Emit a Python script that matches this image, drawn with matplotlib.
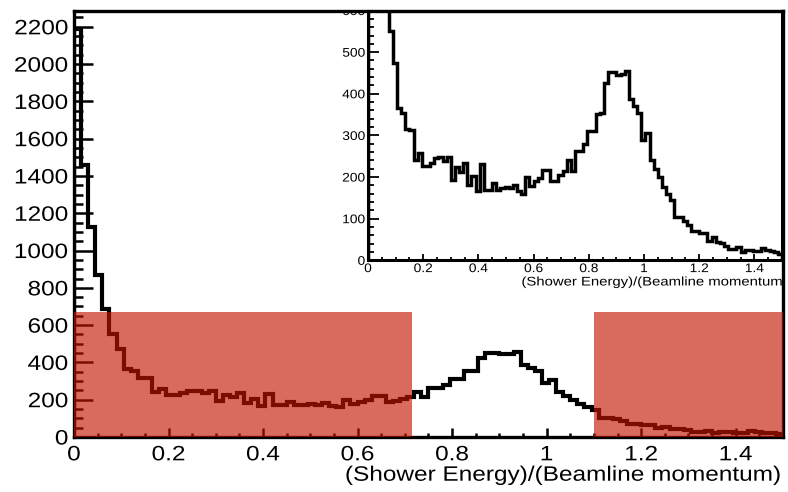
import numpy as np
import matplotlib.pyplot as plt
from matplotlib.ticker import MultipleLocator, FormatStrFormatter
from matplotlib.transforms import Bbox, TransformedBbox, Affine2D
from matplotlib.patheffects import AbstractPathEffect

plt.rcParams['font.family'] = ['Liberation Sans', 'DejaVu Sans']

# histogram of (shower energy)/(beamline momentum), 100 bins from 0 to 1.5
x_min, x_max, n_bins = 0.0, 1.5, 100
counts = [
    2190, 1458, 1126, 869, 686, 550, 474, 367, 354, 316,
    314, 242, 258, 226, 226, 234, 246, 247, 238, 247,
    194, 223, 212, 234, 182, 202, 167, 232, 170, 170,
    186, 170, 173, 175, 174, 182, 167, 159, 199, 178,
    190, 198, 218, 218, 190, 191, 206, 214, 242, 214,
    263, 263, 280, 310, 310, 352, 355, 425, 452, 452,
    445, 447, 455, 388, 370, 355, 290, 305, 240, 220,
    200, 175, 160, 145, 103, 103, 95, 85, 70, 70,
    65, 65, 47, 55, 45, 42, 35, 28, 28, 32,
    20, 25, 25, 23, 22, 30, 25, 22, 20, 15,
]
edges = np.linspace(x_min, x_max, n_bins + 1)

# rejected regions (shaded)
cut_ranges = [(0.0, 0.715), (1.1, 1.5)]
cut_top = 670


class Widen(AbstractPathEffect):
    """stretch text horizontally around one side of its ink box (the old plot has wide glyphs)"""
    def __init__(self, sx, anchor='center'):
        super().__init__()
        self.sx = sx
        self.anchor = anchor

    def draw_path(self, renderer, gc, tpath, affine, rgbFace=None):
        ext = tpath.get_extents(affine)
        if self.anchor == 'left':
            x0 = ext.x0
        elif self.anchor == 'right':
            x0 = ext.x1
        else:
            x0 = 0.5 * (ext.x0 + ext.x1)
        aff = affine + Affine2D().translate(-x0, 0).scale(self.sx, 1).translate(x0, 0)
        renderer.draw_path(gc, tpath, aff, rgbFace)


fig = plt.figure(figsize=(7.88, 4.92), dpi=100)
fig.patch.set_facecolor('white')

# ---- inset (drawn underneath the main frame)
axi = fig.add_axes([0.467, 0.4709, 0.5254, 0.5077])
axi.set_zorder(0)
axi.stairs(counts, edges, color='black', lw=2.5)
axi.set_xlim(x_min, x_max)
axi.set_ylim(0, 600)
axi.xaxis.set_major_locator(MultipleLocator(0.2))
axi.xaxis.set_minor_locator(MultipleLocator(0.05))
axi.yaxis.set_major_locator(MultipleLocator(100))
axi.yaxis.set_minor_locator(MultipleLocator(20))
axi.xaxis.set_major_formatter(FormatStrFormatter('%g'))
axi.tick_params(which='both', direction='in', top=False, right=False, labelsize=9, width=1.3, pad=2)
axi.tick_params(axis='y', which='major', length=8)
axi.tick_params(axis='y', which='minor', length=4)
axi.tick_params(axis='x', which='major', length=4.5)
axi.tick_params(axis='x', which='minor', length=2.2)
for s in axi.spines.values():
    s.set_linewidth(2.2)
axi.set_xlabel('(Shower Energy)/(Beamline momentum', fontsize=9, loc='right', labelpad=1)
axi.xaxis.label.set_path_effects([Widen(1.19, 'right')])

# ---- main frame
ax = fig.add_axes([0.0939, 0.1118, 0.8997, 0.8659])
ax.set_zorder(1)
ax.patch.set_alpha(0)
ax.stairs(counts, edges, color='black', lw=3)
for lo, hi in cut_ranges:
    ax.fill_between([lo, hi], 0, cut_top, color=(194 / 255, 21 / 255, 0), alpha=0.63, lw=0, zorder=3)
ax.set_xlim(x_min, x_max)
ax.set_ylim(0, 2285)
ax.xaxis.set_major_locator(MultipleLocator(0.2))
ax.xaxis.set_minor_locator(MultipleLocator(0.05))
ax.yaxis.set_major_locator(MultipleLocator(200))
ax.yaxis.set_minor_locator(MultipleLocator(50))
ax.xaxis.set_major_formatter(FormatStrFormatter('%g'))
ax.tick_params(which='both', direction='in', top=False, right=False, labelsize=15, width=1.8)
ax.tick_params(axis='y', which='major', length=14, pad=4)
ax.tick_params(axis='y', which='minor', length=6.5)
ax.tick_params(axis='x', which='major', length=6.5, pad=6)
ax.tick_params(axis='x', which='minor', length=3.2)
for s in ax.spines.values():
    s.set_linewidth(2.4)
ax.set_xlabel('(Shower Energy)/(Beamline momentum)', fontsize=15, loc='right', labelpad=1)
ax.xaxis.label.set_path_effects([Widen(1.17, 'right')])

# widen tick labels, cut the inset tick labels at the top of the pad
fig.canvas.draw()
for lbl in ax.get_yticklabels():
    lbl.set_path_effects([Widen(1.17, 'right')])
for lbl in ax.get_xticklabels():
    lbl.set_path_effects([Widen(1.17, 'center')])
for lbl in axi.get_xticklabels():
    lbl.set_path_effects([Widen(1.1, 'center')])
clip = TransformedBbox(Bbox([[0, 0], [1, 0.978]]), fig.transFigure)
for lbl in axi.get_yticklabels():
    lbl.set_path_effects([Widen(1.1, 'right')])
    lbl.set_clip_box(clip)
    lbl.set_clip_on(True)

fig.savefig('out.png', dpi=100)
